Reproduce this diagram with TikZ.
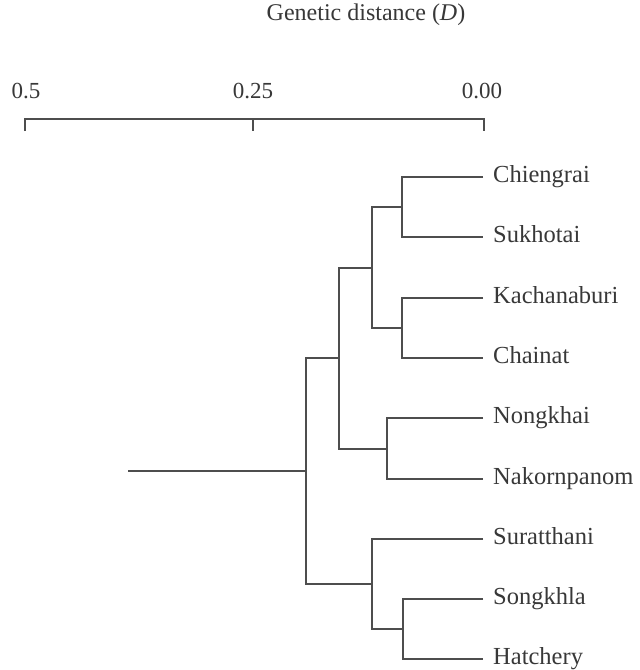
\documentclass[tikz,border=0pt]{standalone}
\usepackage{fontspec}
\setmainfont{Liberation Serif}
\definecolor{ink}{HTML}{4E4E4E}
\definecolor{txt}{HTML}{383838}
\begin{document}
\begin{tikzpicture}[x=1bp,y=-1bp,
  branch/.style={draw=ink,line width=2bp,line join=miter},
  leaf/.style={anchor=west,inner xsep=10bp,inner ysep=0pt,text height=16bp,text depth=5bp,
    font=\fontsize{24.5bp}{27bp}\selectfont,text=txt},
  scalelab/.style={font=\fontsize{23bp}{25bp}\selectfont,text=txt,inner sep=0pt},
  title/.style={font=\fontsize{24bp}{26bp}\selectfont,text=txt,inner sep=0pt}]
\useasboundingbox[fill=white] (0,0) rectangle (640,670);

% scale
\node[title] (ttl) at (366,15) {Genetic distance (\textit{D})};
\coordinate (s0) at (25,119);
\coordinate (s1) at (253,119);
\coordinate (s2) at (484,119);
\node[scalelab] (l0) at (26,91) {0.5};
\node[scalelab] (l1) at (253,91) {0.25};
\node[scalelab] (l2) at (482,91) {0.00};
\draw[branch] ([yshift=-12bp]s0) -- (s0) -- (s2) -- ([yshift=-12bp]s2);
\draw[branch] (s1) -- ([yshift=-12bp]s1);

% leaves
\node[leaf] (chi) at (483,177) {Chiengrai};
\node[leaf] (suk) at (483,237) {Sukhotai};
\node[leaf] (kac) at (483,298) {Kachanaburi};
\node[leaf] (cha) at (483,358) {Chainat};
\node[leaf] (non) at (483,418) {Nongkhai};
\node[leaf] (nak) at (483,479) {Nakornpanom};
\node[leaf] (sur) at (483,539) {Suratthani};
\node[leaf] (son) at (483,599) {Songkhla};
\node[leaf] (hat) at (483,659) {Hatchery};

% junctions
\coordinate (j1) at (402,207);
\coordinate (j2) at (402,328);
\coordinate (j3) at (372,268);
\coordinate (j4) at (387,449);
\coordinate (j5) at (339,358);
\coordinate (j6) at (403,629);
\coordinate (j7) at (372,584);
\coordinate (j8) at (306,471);
\coordinate (r0) at (128,471);

\draw[branch] (chi.west) -| (j1) |- (suk.west);
\draw[branch] (kac.west) -| (j2) |- (cha.west);
\draw[branch] (j1) -| (j3) |- (j2);
\draw[branch] (non.west) -| (j4) |- (nak.west);
\draw[branch] (j3) -| (j5) |- (j4);
\draw[branch] (son.west) -| (j6) |- (hat.west);
\draw[branch] (sur.west) -| (j7) |- (j6);
\draw[branch] (j5) -| (j8) |- (j7);
\draw[branch] (r0) -- (j8);
\end{tikzpicture}
\end{document}
